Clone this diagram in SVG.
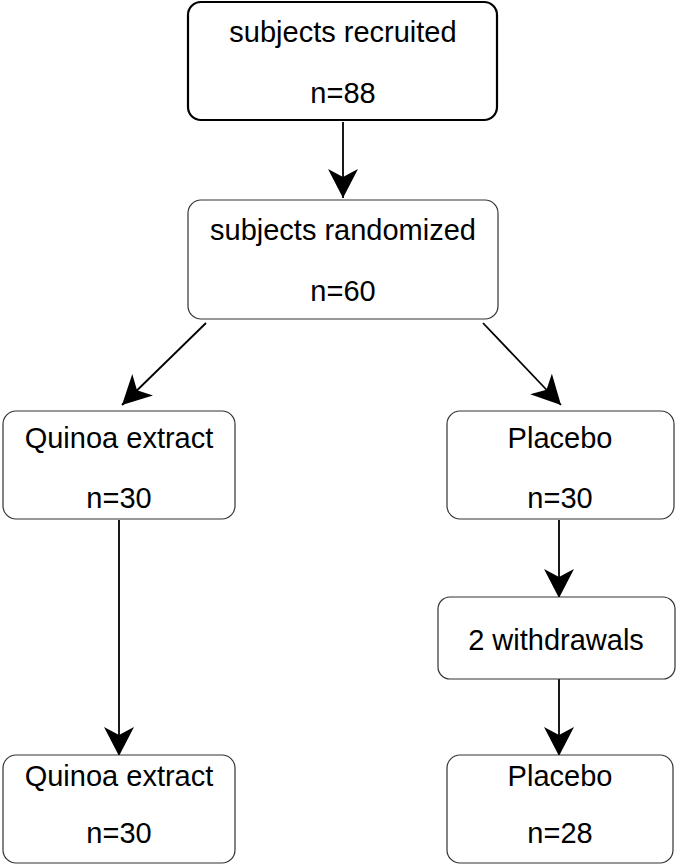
<svg xmlns="http://www.w3.org/2000/svg" width="677" height="866" viewBox="0 0 677 866">
  <style>
    .box { fill: #ffffff; stroke: #333333; stroke-width: 1.2; }
    .box.main { stroke: #000000; stroke-width: 2.2; }
    .label { font-family: "Liberation Sans", Arial, sans-serif; font-size: 29px; fill: #000000; text-anchor: middle; }
    .edge { fill: none; stroke: #000000; stroke-width: 1.8; marker-end: url(#arrow); }
  </style>
  <defs>
    <!-- notched "classic" arrowhead, tip at the path end -->
    <marker id="arrow" viewBox="0 0 30 30" refX="29" refY="15" markerWidth="30" markerHeight="30" markerUnits="userSpaceOnUse" orient="auto">
      <path d="M29,15 L0,0 L8,15 L0,30 Z" fill="#000000"/>
    </marker>
  </defs>

  <g id="connectors">
    <path class="edge" d="M343,122 L343,198"/>
    <path class="edge" d="M206,323 L122,405"/>
    <path class="edge" d="M483,323 L561,405"/>
    <path class="edge" d="M119,520 L119,756"/>
    <path class="edge" d="M559,520 L559,598"/>
    <path class="edge" d="M559,679 L559,756"/>
  </g>

  <g id="recruited">
    <rect class="box main" x="188" y="2" width="309" height="118" rx="13"/>
    <text class="label" x="343" y="42">subjects recruited</text>
    <text class="label" x="343" y="103">n=88</text>
  </g>

  <g id="randomized">
    <rect class="box" x="188" y="200" width="310" height="119" rx="13"/>
    <text class="label" x="343" y="240">subjects randomized</text>
    <text class="label" x="343" y="301">n=60</text>
  </g>

  <g id="quinoa-start">
    <rect class="box" x="3" y="411" width="232" height="108" rx="13"/>
    <text class="label" x="119" y="448">Quinoa extract</text>
    <text class="label" x="119" y="508">n=30</text>
  </g>

  <g id="placebo-start">
    <rect class="box" x="447" y="411" width="227" height="108" rx="13"/>
    <text class="label" x="560" y="448">Placebo</text>
    <text class="label" x="560" y="508">n=30</text>
  </g>

  <g id="withdrawals">
    <rect class="box" x="438" y="597" width="237" height="82" rx="12"/>
    <text class="label" x="556" y="650">2 withdrawals</text>
  </g>

  <g id="quinoa-end">
    <rect class="box" x="3" y="755" width="232" height="108" rx="13"/>
    <text class="label" x="119" y="786">Quinoa extract</text>
    <text class="label" x="119" y="843">n=30</text>
  </g>

  <g id="placebo-end">
    <rect class="box" x="447" y="755" width="226" height="108" rx="13"/>
    <text class="label" x="560" y="786">Placebo</text>
    <text class="label" x="560" y="843">n=28</text>
  </g>
</svg>
